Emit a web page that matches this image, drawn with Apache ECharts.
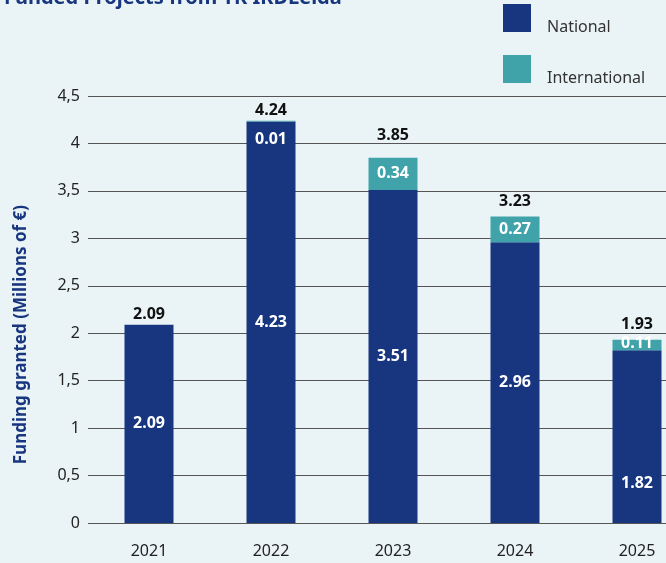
<!DOCTYPE html>
<html><head><meta charset="utf-8">
<script src="https://cdn.jsdelivr.net/npm/echarts@6/dist/echarts.min.js"></script>
<style>html,body{margin:0;padding:0;background:#eaf4f6;overflow:hidden;width:666px;height:563px;}#c{width:698px;height:563px;}</style>
</head><body><div id="c"></div>
<script>
const years = ['2021','2022','2023','2024','2025'];
const national = [2.09, 4.23, 3.51, 2.96, 1.82];
const international = [0, 0.01, 0.34, 0.27, 0.11];
const totals = [2.09, 4.24, 3.85, 3.23, 1.93];
const yTicks = [0, 0.5, 1, 1.5, 2, 2.5, 3, 3.5, 4, 4.5];

const FONT = 'Noto Sans';
const NAVY = '#18367f', TEAL = '#40a3aa';
const totalOffsets = [0, 0, 12, 5, 5];

const chart = echarts.init(document.getElementById('c'));
chart.setOption({
  backgroundColor: '#eaf4f6',
  textStyle: {fontFamily: FONT},
  graphic: [
    {type: 'text', left: 4, top: -12, style: {text: 'Funded Projects from TK IRDLelda', font: 'bold 20px "Noto Sans"', fill: NAVY}},
    {type: 'text', left: 13, top: 205, rotation: Math.PI/2, originX: 0, originY: 0,
     style: {text: 'Funding granted (Millions of €)', font: 'bold 17px "Noto Sans"', fill: NAVY}}
  ],
  legend: {
    data: ['National', 'International'], orient: 'vertical', left: 498, top: -1,
    itemWidth: 28, itemHeight: 28, itemGap: 20, icon: 'rect',
    formatter: '{a|{name}}',
    textStyle: {rich: {a: {fontSize: 16, color: '#333', fontFamily: FONT, padding: [18, 0, 0, 11]}}}
  },
  grid: {left: 88, right: 0, top: 96, bottom: 40},
  xAxis: {
    type: 'category', data: years,
    axisLine: {show: false}, axisTick: {show: false},
    axisLabel: {color: '#222', fontSize: 16, margin: 20, fontFamily: FONT}
  },
  yAxis: {
    type: 'value', min: 0, max: 4.5, interval: 0.5,
    axisLine: {show: false}, axisTick: {show: false},
    splitLine: {lineStyle: {color: '#555', width: 1}},
    axisLabel: {color: '#222', fontSize: 16, margin: 8, fontFamily: FONT,
      formatter: v => String(v).replace('.', ',')}
  },
  series: [
    {name: 'National', type: 'bar', stack: 's', barWidth: 49, itemStyle: {color: NAVY},
     data: national.map((v, i) => ({value: v, label: i === 4 ? {position: 'insideBottom', distance: 32} : {}})),
     label: {show: true, position: 'inside', color: '#fff', fontWeight: 'bold', fontSize: 16, fontFamily: FONT,
       formatter: p => national[p.dataIndex].toFixed(2)}},
    {name: 'International', type: 'bar', stack: 's', barWidth: 49, itemStyle: {color: TEAL},
     data: international.map((v, i) => ({value: v, label: i === 1 ? {position: 'inside', offset: [0, 18]} : (i === 0 ? {show: false} : {offset: i === 4 ? [0, -2] : [0, 0]})})),
     label: {show: true, position: 'inside', color: '#fff', fontWeight: 'bold', fontSize: 16, fontFamily: FONT,
       formatter: p => international[p.dataIndex].toFixed(2)}},
    {name: 'Total', type: 'bar', stack: 's', barWidth: 49, itemStyle: {color: 'transparent'},
     data: totals.map((v, i) => ({value: 0, label: {distance: 2 + totalOffsets[i]}})),
     label: {show: true, position: 'top', color: '#111', fontWeight: 'bold', fontSize: 16, fontFamily: FONT,
       formatter: p => totals[p.dataIndex].toFixed(2)}}
  ]
});
</script></body></html>
